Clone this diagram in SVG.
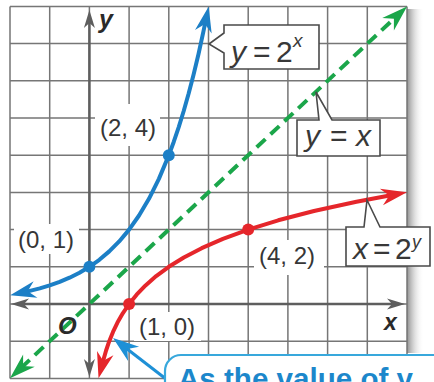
<svg xmlns="http://www.w3.org/2000/svg" width="434" height="382" viewBox="0 0 434 382">
<style>
.grid{fill:none;stroke:#767676;stroke-width:1.5}
.axis{fill:none;stroke:#5e5e5e;stroke-width:2.5}
.curve{fill:none;stroke-width:4;stroke-linejoin:round;stroke-linecap:butt}
.lbl{font-family:"Liberation Sans",Arial,sans-serif;font-size:24px;fill:#363636}
.cl{font-family:"Liberation Sans",Arial,sans-serif;font-size:30px;fill:#383838}
.ax{font-family:"Liberation Sans",Arial,sans-serif;font-weight:bold;font-style:italic;fill:#2a2a2a}
.box{fill:#fff;stroke:#4a4a4a;stroke-width:1.6;stroke-linejoin:miter}
.bg{fill:#fff}
</style>
<defs>
<linearGradient id="shadow" x1="0" y1="0" x2="1" y2="0">
<stop offset="0" stop-color="#8a8a8a" stop-opacity="0.95"/>
<stop offset="1" stop-color="#ffffff" stop-opacity="0"/>
</linearGradient>
<marker id="aBlue" markerUnits="userSpaceOnUse" viewBox="-27 -10 28 20" markerWidth="28" markerHeight="20" refX="-15" refY="0" orient="auto-start-reverse" overflow="visible"><path d="M0,0 L-26,-8.5 L-18,0 L-26,8.5 Z" fill="#1c7fc6"/></marker>
<marker id="aRed" markerUnits="userSpaceOnUse" viewBox="-27 -10 28 20" markerWidth="28" markerHeight="20" refX="-15" refY="0" orient="auto-start-reverse" overflow="visible"><path d="M0,0 L-26,-8.5 L-18,0 L-26,8.5 Z" fill="#e5262b"/></marker>
<marker id="aGreen" markerUnits="userSpaceOnUse" viewBox="-27 -10 28 20" markerWidth="28" markerHeight="20" refX="-15" refY="0" orient="auto-start-reverse" overflow="visible"><path d="M0,0 L-26,-8.5 L-18,0 L-26,8.5 Z" fill="#1ba64a"/></marker>
<marker id="aGray" markerUnits="userSpaceOnUse" viewBox="-20 -7 21 14" markerWidth="21" markerHeight="14" refX="-11" refY="0" orient="auto-start-reverse" overflow="visible"><path d="M0,0 L-18,-5.5 L-13,0 L-18,5.5 Z" fill="#5e5e5e"/></marker>
<marker id="aCall" markerUnits="userSpaceOnUse" viewBox="-27 -10 28 20" markerWidth="28" markerHeight="20" refX="-15" refY="0" orient="auto" overflow="visible"><path d="M0,0 L-26,-9 L-18,0 L-26,9 Z" fill="#1e90d6"/></marker>
</defs>
<rect x="0" y="0" width="434" height="382" fill="#fff"/>
<rect x="407" y="9" width="17" height="344" fill="url(#shadow)"/>
<path class="grid" d="M10,6.4V378.4M49.7,6.4V378.4M89.4,6.4V378.4M129.1,6.4V378.4M168.8,6.4V378.4M208.5,6.4V378.4M248.2,6.4V378.4M287.9,6.4V378.4M327.6,6.4V378.4M367.3,6.4V378.4M407,6.4V378.4M10,6.4H407M10,43.6H407M10,80.8H407M10,118H407M10,155.2H407M10,192.4H407M10,229.6H407M10,266.8H407M10,304H407M10,341.2H407M10,378.4H407"/>
<g id="axes">
<path class="axis" d="M89.4,366V21" marker-start="url(#aGray)" marker-end="url(#aGray)"/>
<path class="axis" d="M22,304H394" marker-start="url(#aGray)" marker-end="url(#aGray)"/>
</g>
<g id="connectors">
<path id="line-yx" class="curve" stroke="#1ba64a" stroke-width="4.5" stroke-dasharray="12 7" d="M20.9,368.1L396.1,16.7" marker-start="url(#aGreen)" marker-end="url(#aGreen)"/>
<path id="curve-exp" class="curve" stroke="#1c7fc6" d="M24.8,292.0L29.85,290.85L39.78,288.36L49.7,285.4L59.63,281.88L69.55,277.7L79.48,272.72L89.4,266.8L99.33,259.76L109.25,251.39L119.18,241.44L129.1,229.6L139.03,215.52L148.95,198.78L158.88,178.87L168.8,155.2L173.8,141.7L178.73,127.05L183.7,111.0L188.65,93.56L193.6,74.5L198.58,53.75L203.5,31.1L205.6,21.1" marker-start="url(#aBlue)" marker-end="url(#aBlue)"/>
<path id="curve-log" class="curve" stroke="#e5262b" d="M102.4,363.7L103.44,359.8L106.09,350.5L109.25,341.2L113.0,331.9L117.47,322.6L122.78,313.3L129.1,304L136.61,294.7L145.54,285.4L156.17,276.1L168.8,266.8L183.82,257.5L201.69,248.2L222.93,238.9L248.2,229.6L278.24,220.3L313.98,211.0L356.47,201.7L392.2,194.95" marker-start="url(#aRed)" marker-end="url(#aRed)"/>
<path id="pointer" fill="none" stroke="#1e90d6" stroke-width="3" d="M166,379L124.9,347.2" marker-end="url(#aCall)"/>
</g>
<g id="points">
<circle cx="168.8" cy="155.2" r="6" fill="#1c7fc6"/>
<circle cx="89.4" cy="266.8" r="6" fill="#1c7fc6"/>
<circle cx="129.1" cy="304" r="6" fill="#e5262b"/>
<circle cx="248.2" cy="229.6" r="6" fill="#e5262b"/>
</g>
<g id="label-2-4"><rect class="bg" x="95" y="104" width="65" height="42"/><text class="lbl" x="100" y="136">(2, 4)</text></g>
<g id="label-0-1"><rect class="bg" x="14" y="224" width="65" height="30"/><text class="lbl" x="18" y="248">(0, 1)</text></g>
<g id="label-4-2"><rect class="bg" x="254" y="240" width="70" height="35"/><text class="lbl" x="259" y="264">(4, 2)</text></g>
<g id="label-1-0"><rect class="bg" x="134" y="312" width="67" height="29"/><text class="lbl" x="139" y="335">(1, 0)</text></g>
<text class="ax" x="99" y="28" font-size="25">y</text>
<text class="ax" x="384" y="330" font-size="23">x</text>
<text class="ax" x="58" y="334" font-size="24">O</text>
<g id="callout-exp">
<path class="box" d="M224,25H319V69H224V53L209,44L224,33Z"/>
<text class="cl" y="62"><tspan x="231" font-style="italic">y</tspan><tspan x="253">=</tspan><tspan x="276">2</tspan><tspan x="293" y="47" font-size="19" font-style="italic">x</tspan></text>
</g>
<g id="callout-yx">
<path class="box" d="M297,120H319L316,92L332,120H380V156H297Z"/>
<text class="cl" y="146" font-size="28"><tspan x="305" font-style="italic">y</tspan><tspan x="330">=</tspan><tspan x="356" font-style="italic">x</tspan></text>
</g>
<g id="callout-log">
<path class="box" d="M346,227H364L367,200L380,227H430V266H346Z"/>
<text class="cl" y="259" font-size="28"><tspan x="353" font-style="italic">x</tspan><tspan x="373">=</tspan><tspan x="395">2</tspan><tspan x="412" y="248" font-size="18" font-style="italic">y</tspan></text>
</g>
<g id="note">
<path d="M165,392V371A16,16 0 0 1 181,355H440V392Z" fill="#fff" stroke="#38a8dc" stroke-width="2.2"/>
<text x="178" y="389" font-family="'Liberation Sans',Arial,sans-serif" font-weight="bold" font-size="29" fill="#1c87cb" textLength="235" lengthAdjust="spacingAndGlyphs">As the value of y</text>
</g>
</svg>
